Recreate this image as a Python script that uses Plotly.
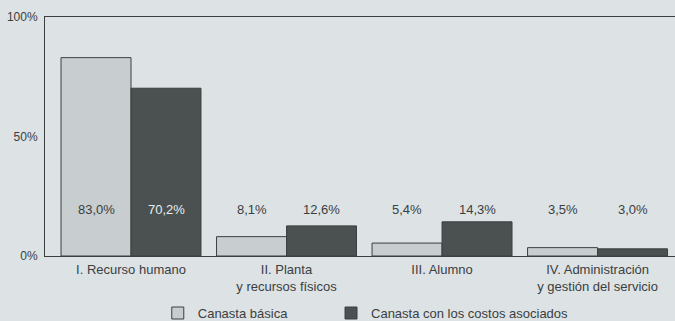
import plotly.graph_objects as go

# Share of each cost component in the two baskets (%)
categories = [
    "I. Recurso humano",
    "II. Planta<br>y recursos físicos",
    "III. Alumno",
    "IV. Administración<br>y gestión del servicio",
]
canasta_basica = [83.0, 8.1, 5.4, 3.5]
canasta_asociados = [70.2, 12.6, 14.3, 3.0]
series_names = ["Canasta básica", "Canasta con los costos asociados"]
y_tick_values = [0, 50, 100]
y_tick_labels = ["0%", "50%", "100%"]

PAPER = "#dde2e5"
LIGHT = "#c8cdcf"
DARK = "#4a5150"
EDGE = "#3a4040"
INK = "#3a4041"
FONT = "Liberation Sans, Arial, sans-serif"


def pct(v):
    return f"{v:.1f}".replace(".", ",") + "%"


fig = go.Figure()
fig.add_trace(go.Bar(
    x=categories, y=canasta_basica, name=series_names[0], legend="legend",
    marker=dict(color=LIGHT, line=dict(color=EDGE, width=1)),
))
fig.add_trace(go.Bar(
    x=categories, y=canasta_asociados, name=series_names[1], legend="legend2",
    marker=dict(color=DARK, line=dict(color=EDGE, width=1)),
))

# Value labels sit on a common baseline above the short bars
label_level = 19.5
half_bar_px = 35
for cat, v1, v2 in zip(categories, canasta_basica, canasta_asociados):
    fig.add_annotation(x=cat, y=label_level, text=pct(v1), showarrow=False,
                       xshift=-half_bar_px, font=dict(size=13, color=INK, family=FONT))
    fig.add_annotation(x=cat, y=label_level, text=pct(v2), showarrow=False,
                       xshift=half_bar_px,
                       font=dict(size=13, color="#e9eded" if v2 > label_level + 5 else INK,
                                 family=FONT))

legend_style = dict(orientation="h", xanchor="left", y=-0.176, yanchor="top",
                    font=dict(size=13, color=INK, family=FONT),
                    bgcolor="rgba(0,0,0,0)")

fig.update_layout(
    width=675, height=321,
    margin=dict(l=45, r=0, t=17, b=65, autoexpand=False),
    paper_bgcolor=PAPER, plot_bgcolor=PAPER,
    barmode="group", bargap=0.1, bargroupgap=0,
    font=dict(family=FONT, size=13, color=INK),
    showlegend=True,
    legend=dict(x=0.179, **legend_style),
    legend2=dict(x=0.454, **legend_style),
    xaxis=dict(type="category", range=[-0.553, 3.498],
               showline=True, linecolor=EDGE, linewidth=1, mirror=True,
               ticks="", ticklabelstandoff=1, showgrid=False,
               tickfont=dict(size=13, color=INK)),
    yaxis=dict(range=[0, 100], tickvals=y_tick_values, ticktext=y_tick_labels,
               showline=True, linecolor=EDGE, linewidth=1,
               showgrid=False, zeroline=False, ticks="", ticklabelstandoff=4,
               tickfont=dict(size=12, color=INK)),
)

fig.write_html("out.html")
